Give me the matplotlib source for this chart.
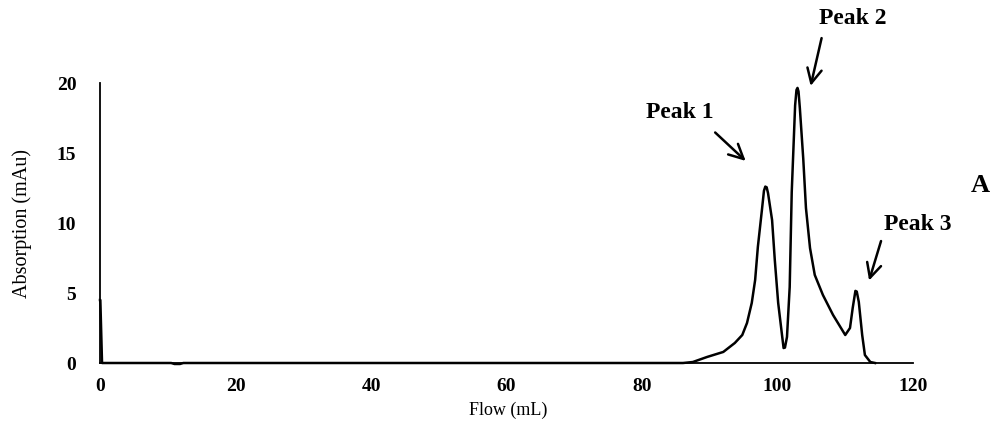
import matplotlib
matplotlib.use("Agg")
import matplotlib.pyplot as plt

flow_ml = [0.0, 0.05, 0.3, 10.5, 11.0, 11.8, 12.3, 86.05, 87.5, 89.6, 92.0, 93.7, 94.8, 95.5, 96.2, 96.7,
           97.1, 97.7, 98.0, 98.2, 98.4, 98.6, 99.2, 99.6, 100.1, 100.7, 100.9, 101.1, 101.4, 101.8, 102.1,
           102.6, 102.8, 102.95, 103.1, 103.3, 103.8, 104.2, 104.8, 105.5, 106.7, 108.2, 110.0, 110.7,
           111.1, 111.5, 111.7, 112.0, 112.5, 112.9, 113.7, 114.4]
absorption_mau = [4.5, 4.5, 0.0, 0.0, -0.07, -0.07, 0.0, 0.0, 0.07, 0.43, 0.79, 1.43, 2.0, 2.86, 4.29, 5.93,
                  8.29, 10.93, 12.3, 12.6, 12.55, 12.14, 10.21, 7.36, 4.29, 1.86, 1.07, 1.1, 1.86, 5.43, 12.2,
                  18.4, 19.5, 19.65, 19.4, 18.2, 14.6, 11.07, 8.21, 6.29, 4.86, 3.43, 2.0, 2.5,
                  3.93, 5.15, 5.1, 4.36, 2.0, 0.57, 0.07, 0.0]

x_ticks = [0, 20, 40, 60, 80, 100, 120]
y_ticks = [0, 5, 10, 15, 20]

peak_labels = ["Peak 1", "Peak 2", "Peak 3"]
peak_text_xy = [(85.6, 17.9), (111.1, 24.6), (120.7, 9.9)]
peak_tail_xy = [(90.5, 16.6), (106.6, 23.4), (115.4, 8.9)]
peak_head_xy = [(95.6, 14.3), (104.8, 19.6), (113.4, 5.7)]

serif = ["Liberation Serif", "DejaVu Serif"]

fig = plt.figure(figsize=(9.91, 4.38), dpi=100)
ax = fig.add_axes([100 / 991, 1 - 363 / 438, 813 / 991, 280 / 438])

ax.plot(flow_ml, absorption_mau, color="black", lw=1.8, solid_joinstyle="round", clip_on=False)

ax.set_xlim(0, 120)
ax.set_ylim(0, 20)
ax.set_xticks(x_ticks)
ax.set_yticks(y_ticks)
ax.tick_params(length=0, labelsize=14)
ax.tick_params(axis="x", pad=11)
ax.tick_params(axis="y", pad=17)
for lab in ax.get_xticklabels() + ax.get_yticklabels():
    lab.set_fontfamily(serif)
    lab.set_fontweight("bold")

for s in ["top", "right"]:
    ax.spines[s].set_visible(False)
for s in ["left", "bottom"]:
    ax.spines[s].set_linewidth(1.3)
    ax.spines[s].set_color("black")

ax.set_xlabel("Flow (mL)", fontsize=13, family=serif, va="center")
ax.set_ylabel("Absorption (mAu)", fontsize=14.5, family=serif, va="center")
ax.xaxis.set_label_coords((508 - 100) / 813, (363 - 410) / 280)
ax.yaxis.set_label_coords((22 - 100) / 813, 0.5)

for lab, txy, tail, head in zip(peak_labels, peak_text_xy, peak_tail_xy, peak_head_xy):
    ax.text(txy[0], txy[1], lab, ha="center", va="center", fontsize=17, fontweight="bold",
            family=serif, clip_on=False)
    ax.annotate("", xy=head, xytext=tail, annotation_clip=False,
                arrowprops=dict(arrowstyle="->", color="black", lw=1.8, mutation_scale=26))

fig.text(980 / 991, 1 - 185 / 438, "A", ha="center", va="center", fontsize=19,
         fontweight="bold", family=serif)

fig.savefig("out.png", dpi=100, facecolor="white")
